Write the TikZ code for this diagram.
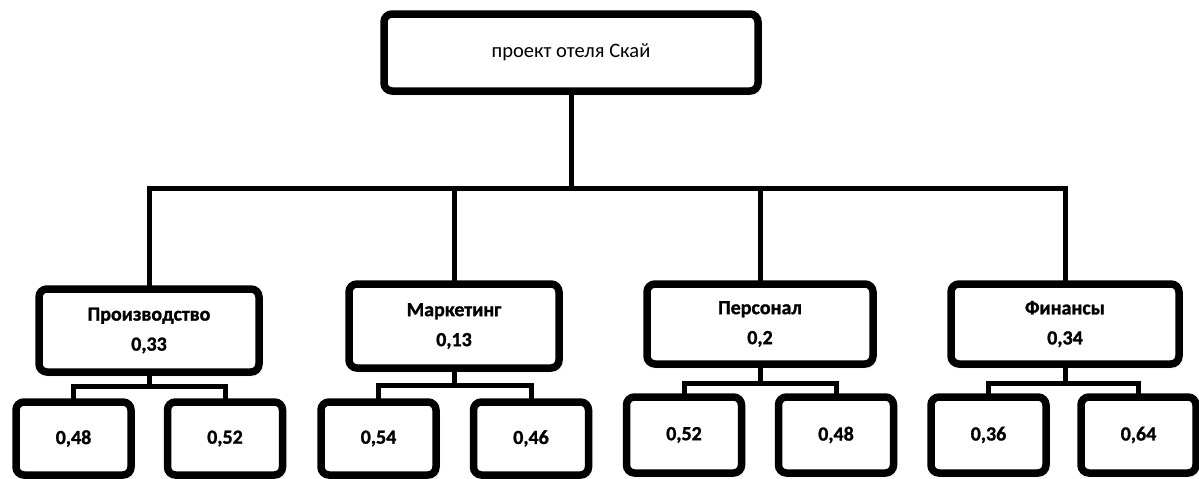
\documentclass[tikz,border=0pt]{standalone}
\usepackage{fontspec}
\setmainfont{Carlito}
\newfontfamily\heavyfont[FakeBold=1.2]{Carlito Bold}
\usetikzlibrary{shadows.blur}
\begin{document}
\begin{tikzpicture}[x=1pt,y=-1pt,
  box/.style={draw=black, line width=7.5pt, rounded corners=8pt, fill=white,
    inner sep=0pt, outer sep=0pt, align=center,
    blur shadow={shadow xshift=1.5pt, shadow yshift=-2pt, shadow blur steps=6,
      shadow blur radius=3pt, shadow opacity=35}},
  topbox/.style={box, minimum width=374pt, minimum height=77pt, font=\fontsize{20.5}{24}\selectfont},
  catbox/.style={box, minimum height=82pt, font=\fontsize{20}{30}\selectfont\heavyfont},
  leafbox/.style={box, minimum width=115pt, font=\fontsize{20}{24}\selectfont\heavyfont},
  conn/.style={draw=black, line width=5pt, line join=miter}
]
\useasboundingbox (0,0) rectangle (1199,479);

% top
\node[topbox] (top) at (571,52.5) {проект отеля Скай};

% categories
\node[catbox, minimum width=220pt, minimum height=83pt] (prod) at (149,330.5) {Производство\\0,33};
\node[catbox, minimum width=210pt, minimum height=84pt] (mkt) at (454,326) {Маркетинг\\0,13};
\node[catbox, minimum width=226pt, minimum height=80pt] (pers) at (760,324) {Персонал\\0,2};
\node[catbox, minimum width=228pt, minimum height=80pt] (fin) at (1065,324) {Финансы\\0,34};

% leaves
\node[leafbox, minimum height=73pt] (p1) at (73.5,438.5) {0,48};
\node[leafbox, minimum height=73pt] (p2) at (225,438.5) {0,52};
\node[leafbox, minimum height=73pt] (m1) at (378.5,438.5) {0,54};
\node[leafbox, minimum height=73pt] (m2) at (531,438.5) {0,46};
\node[leafbox, minimum height=76pt] (s1) at (684,435) {0,52};
\node[leafbox, minimum height=76pt] (s2) at (836,435) {0,48};
\node[leafbox, minimum height=76pt] (f1) at (988.5,435) {0,36};
\node[leafbox, minimum height=76pt] (f2) at (1138.5,435) {0,64};

% bus coordinates
\coordinate (bus) at (571,188);
\coordinate (pbus) at (149,386);
\coordinate (mbus) at (454,385);
\coordinate (sbus) at (760,383);
\coordinate (fbus) at (1065,383);

\draw[conn] (top.south) -- (bus);
\draw[conn] (prod.north) |- (bus);
\draw[conn] (mkt.north) |- (bus);
\draw[conn] (pers.north) |- (bus);
\draw[conn] (fin.north) |- (bus);

\draw[conn] (prod.south) -- (pbus);
\draw[conn] (p1.north) |- (pbus);
\draw[conn] (p2.north) |- (pbus);
\draw[conn] (mkt.south) -- (mbus);
\draw[conn] (m1.north) |- (mbus);
\draw[conn] (m2.north) |- (mbus);
\draw[conn] (pers.south) -- (sbus);
\draw[conn] (s1.north) |- (sbus);
\draw[conn] (s2.north) |- (sbus);
\draw[conn] (fin.south) -- (fbus);
\draw[conn] (f1.north) |- (fbus);
\draw[conn] (f2.north) |- (fbus);
\end{tikzpicture}
\end{document}
